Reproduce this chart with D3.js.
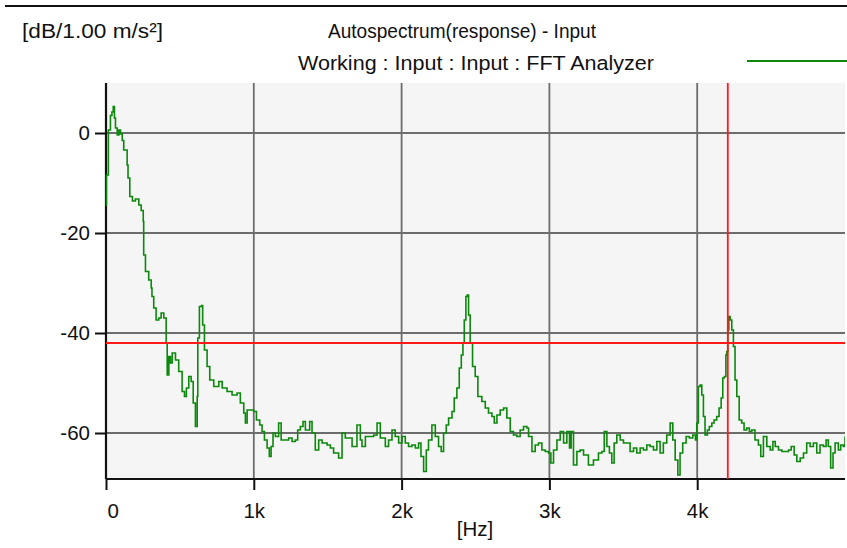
<!DOCTYPE html>
<html>
<head>
<meta charset="utf-8">
<script src="https://cdn.jsdelivr.net/npm/d3@7/dist/d3.min.js"></script>
<style>
  html, body { margin: 0; padding: 0; background: #ffffff; }
  svg { display: block; }
  text { font-family: "Liberation Sans", Arial, sans-serif; fill: #111; }
</style>
</head>
<body>
<svg id="chart" width="847" height="548"></svg>
<script>
// Autospectrum of the response channel, level in dB re 1.00 m/s²
const freqHz = [
  0, 3, 16, 30, 40, 49, 57, 64, 76, 87, 98, 110, 120, 143, 149, 161, 179, 199, 222, 238,
  252, 255, 267, 289, 306, 311, 323, 339, 357, 373, 391, 407, 414, 425, 436, 448, 470, 492, 515, 531,
  544, 560, 576, 590, 605, 617, 621, 632, 646, 654, 666, 684, 702, 729, 763, 786, 819, 853, 887, 909,
  932, 943, 955, 977, 999, 1018, 1040, 1056, 1072, 1090, 1105, 1117, 1130, 1146, 1168, 1185, 1214, 1236, 1259, 1281,
  1297, 1315, 1333, 1349, 1378, 1394, 1416, 1439, 1462, 1496, 1518, 1540, 1574, 1597, 1619, 1642, 1665, 1698, 1721, 1732,
  1755, 1788, 1811, 1834, 1856, 1890, 1912, 1935, 1957, 1980, 2003, 2025, 2047, 2070, 2093, 2115, 2131, 2149, 2167, 2182,
  2205, 2228, 2250, 2268, 2284, 2302, 2318, 2341, 2356, 2374, 2390, 2404, 2415, 2424, 2435, 2444, 2453, 2464, 2480, 2498,
  2516, 2543, 2566, 2588, 2611, 2627, 2645, 2667, 2690, 2712, 2735, 2757, 2780, 2802, 2825, 2848, 2859, 2882, 2904, 2926,
  2949, 2972, 2994, 3010, 3028, 3051, 3073, 3096, 3118, 3136, 3147, 3163, 3186, 3208, 3231, 3264, 3298, 3332, 3355, 3371,
  3389, 3406, 3422, 3438, 3456, 3479, 3501, 3524, 3546, 3569, 3591, 3614, 3636, 3659, 3681, 3704, 3727, 3749, 3771, 3794,
  3817, 3835, 3851, 3869, 3884, 3902, 3925, 3947, 3970, 3988, 3997, 4008, 4020, 4031, 4042, 4053, 4069, 4082, 4099, 4114,
  4132, 4148, 4162, 4173, 4184, 4194, 4200, 4207, 4214, 4223, 4234, 4245, 4256, 4268, 4284, 4301, 4317, 4335, 4353, 4369,
  4391, 4414, 4430, 4448, 4471, 4494, 4512, 4528, 4550, 4573, 4596, 4618, 4636, 4656, 4674, 4697, 4719, 4741, 4764, 4786,
  4809, 4831, 4854, 4872, 4887, 4903, 4919, 4933, 4955, 4971, 4989, 5000
];
const levelDb = [
  -14.5, -8.4, 0.6, 3.5, 4.2, 5.3, 3, 1, -0.4, 0.6, -0.2, -1.5, -3.4, -6.4, -9, -12.7, -13.6, -13.2, -14.4, -15.5,
  -17.7, -24.4, -27.7, -29.4, -31, -32.7, -35, -37.4, -37, -36, -37, -42, -48.4, -44.7, -46, -44, -45.4, -47.7, -51.7, -52.7,
  -51, -48.7, -49.7, -54, -58.7, -52.7, -41, -34.7, -34.5, -38.4, -43.4, -46.7, -49.4, -50.7, -49.7, -51, -51.7, -52.4, -52, -54,
  -56, -58, -55.4, -55.4, -55.7, -57.4, -58.4, -59.7, -61.4, -63, -64.7, -62.7, -60, -60.7, -58, -61.4, -61.4, -61, -61.7, -61.4,
  -59.4, -58.7, -57.7, -59.4, -57.7, -60, -63.4, -61.4, -62, -62.4, -63, -64, -65, -60, -61, -61, -62.7, -58.4, -61.4, -62.7,
  -60.7, -60.7, -60.4, -58, -61, -62.7, -61.4, -59.4, -60.7, -62, -60.7, -62, -62.7, -62.4, -63, -62, -64.7, -67.7, -63.4, -61.4,
  -58.4, -60.7, -62.7, -63.7, -60, -58.4, -57, -55.7, -53, -51, -47, -44.4, -42, -37.4, -32.7, -32.4, -36.4, -42, -46.7, -48.7,
  -52.7, -53.7, -55, -56, -56.7, -58, -56.4, -55.4, -55, -57, -59.7, -60.4, -60.7, -59.4, -58.7, -59, -60.7, -63.7, -62.4, -62,
  -63.4, -63.7, -64, -66, -63.4, -61.4, -59.7, -62, -59.7, -63, -59.7, -66.4, -63.7, -63.4, -64.4, -66.4, -65.4, -64, -63.7, -59.7,
  -62.7, -64, -66, -62, -60.4, -61.4, -62, -62, -63.7, -63, -64, -63, -63.4, -62.4, -62.7, -63.4, -61.7, -64, -62, -60.4,
  -58, -61.4, -65.4, -68.4, -64, -62, -60.7, -61, -60.4, -61.4, -58, -50.7, -50.4, -52.4, -56.7, -60.4, -59.4, -58.7, -58, -57.4,
  -56.7, -55, -53, -49, -48.7, -44.4, -43.7, -39.4, -36.7, -37.4, -39.4, -42.7, -49.4, -52.7, -57.4, -58, -59.4, -59, -59.7, -59.4,
  -61.4, -62.4, -64.7, -60.7, -62.7, -63.4, -61.7, -62.7, -63.4, -63.7, -63.7, -63.4, -62.7, -64.4, -65.7, -65, -64, -62, -62.7, -62,
  -64, -62.4, -62.7, -61.4, -62.7, -67, -64, -62, -63.4, -62.4, -62.7, -60.7
];

// Axis ticks and their labels
const xTicks = [0, 1000, 2000, 3000, 4000];
const xTickLabels = ["0", "1k", "2k", "3k", "4k"];
const yTicks = [-60, -40, -20, 0];
const yTickLabels = ["-60", "-40", "-20", "0"];

// Cursor readout (red cross)
const cursorHz = [4207];
const cursorDb = [-42];

const unitLabel = "[dB/1.00 m/s²]";
const titleText = "Autospectrum(response) - Input";
const subtitleText = "Working : Input : Input : FFT Analyzer";
const xUnitLabel = "[Hz]";

const svg = d3.select("#chart");
const plot = { left: 106, right: 845, top: 83, bottom: 479 };
const fontSize = "20.5px";

const x = d3.scaleLinear().domain([0, 5000]).range([plot.left, plot.right]);
const y = d3.scaleLinear().domain([-69.2, 10]).range([plot.bottom, plot.top]);

// frame line across the top of the window
svg.append("line")
  .attr("x1", 5).attr("x2", 847).attr("y1", 6).attr("y2", 6)
  .attr("stroke", "#111").attr("stroke-width", 2);

// plot background
svg.append("rect")
  .attr("x", plot.left).attr("y", plot.top)
  .attr("width", plot.right - plot.left).attr("height", plot.bottom - plot.top)
  .attr("fill", "#f5f5f5");

// grid
const grid = svg.append("g").attr("stroke", "#6c6c6c").attr("stroke-width", 1.8);
grid.selectAll(".vg").data(xTicks.slice(1)).join("line")
  .attr("x1", d => x(d)).attr("x2", d => x(d))
  .attr("y1", plot.top).attr("y2", plot.bottom);
grid.selectAll(".hg").data(yTicks).join("line")
  .attr("x1", plot.left).attr("x2", plot.right)
  .attr("y1", d => y(d)).attr("y2", d => y(d));

// axes
const xAxis = d3.axisBottom(x).tickValues(xTicks)
  .tickFormat((d, i) => xTickLabels[i]).tickSize(11).tickSizeOuter(0).tickPadding(13);
const yAxis = d3.axisLeft(y).tickValues(yTicks)
  .tickFormat((d, i) => yTickLabels[i]).tickSize(11).tickSizeOuter(0).tickPadding(5);

const gx = svg.append("g").attr("transform", `translate(0,${plot.bottom})`).call(xAxis);
const gy = svg.append("g").attr("transform", `translate(${plot.left},0)`).call(yAxis);

[gx, gy].forEach(g => {
  g.select(".domain").attr("stroke", "#111").attr("stroke-width", 2.2);
  g.selectAll(".tick line").attr("stroke", "#111").attr("stroke-width", 2);
  g.selectAll(".tick text")
    .attr("fill", "#111")
    .style("font-family", '"Liberation Sans", Arial, sans-serif')
    .style("font-size", fontSize);
});
gx.select(".domain").attr("d", `M${plot.left},0H${plot.right}`);
gy.select(".domain").attr("d", `M0,${plot.bottom}V${plot.top}`);
// first x label sits just right of the origin tick
gx.selectAll(".tick text").filter((d, i) => i === 0).attr("text-anchor", "start").attr("x", 1);

// spectrum trace (drawn over the left axis, as the analyzer does)
svg.append("clipPath").attr("id", "plotclip")
  .append("rect")
  .attr("x", plot.left - 2).attr("y", plot.top)
  .attr("width", plot.right - plot.left + 2).attr("height", plot.bottom - plot.top);

const spectrum = freqHz.map((f, i) => [f, levelDb[i]]);
const line = d3.line()
  .x(d => x(d[0]))
  .y(d => y(d[1]))
  .curve(d3.curveStepAfter);

svg.append("path")
  .datum(spectrum)
  .attr("clip-path", "url(#plotclip)")
  .attr("fill", "none")
  .attr("stroke", "#0c880c")
  .attr("stroke-width", 1.6)
  .attr("d", line);

// cursor
const cur = svg.append("g").attr("stroke", "#ff1a1a").attr("stroke-width", 1.8);
cur.append("line")
  .attr("x1", plot.left).attr("x2", plot.right)
  .attr("y1", y(cursorDb[0])).attr("y2", y(cursorDb[0]));
cur.append("line")
  .attr("x1", x(cursorHz[0])).attr("x2", x(cursorHz[0]))
  .attr("y1", plot.top).attr("y2", plot.bottom);

// header texts
svg.append("text").attr("x", 22).attr("y", 38)
  .attr("textLength", 141).attr("lengthAdjust", "spacingAndGlyphs")
  .style("font-size", fontSize).text(unitLabel);
svg.append("text").attr("x", 328).attr("y", 38)
  .attr("textLength", 268).attr("lengthAdjust", "spacingAndGlyphs")
  .style("font-size", fontSize).text(titleText);
svg.append("text").attr("x", 298).attr("y", 70)
  .attr("textLength", 356).attr("lengthAdjust", "spacingAndGlyphs")
  .style("font-size", fontSize).text(subtitleText);

// legend stroke
svg.append("line")
  .attr("x1", 747).attr("x2", 847).attr("y1", 61).attr("y2", 61)
  .attr("stroke", "#0c880c").attr("stroke-width", 1.8);

// x unit
svg.append("text").attr("x", 475).attr("y", 536).attr("text-anchor", "middle")
  .style("font-size", fontSize).text(xUnitLabel);
</script>
</body>
</html>
